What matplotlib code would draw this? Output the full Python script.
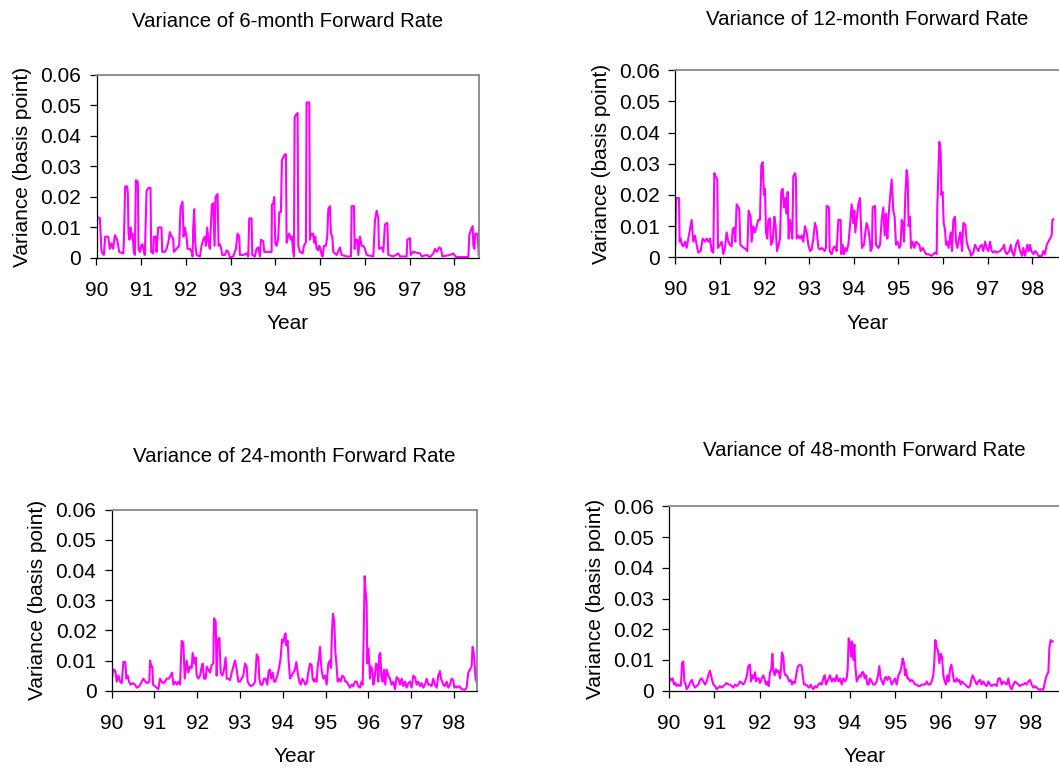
import matplotlib
matplotlib.use("Agg")
import matplotlib.pyplot as plt
import numpy as np

plt.rcParams['font.family'] = ['Liberation Sans', 'DejaVu Sans']

# (year, variance) pairs
fwd6 = [
    (90.000, 0.004), (90.015, 0.0135), (90.075, 0.013), (90.112, 0.002), (90.164, 0.001),
    (90.194, 0.007), (90.261, 0.007), (90.298, 0.003), (90.336, 0.0048), (90.373, 0.003),
    (90.410, 0.0075), (90.462, 0.006), (90.507, 0.002), (90.597, 0.0015), (90.611, 0.005),
    (90.641, 0.0235), (90.686, 0.0235), (90.701, 0.021), (90.716, 0.008), (90.738, 0.006),
    (90.761, 0.010), (90.783, 0.007), (90.805, 0.008), (90.835, 0.002), (90.858, 0.001),
    (90.880, 0.0255), (90.925, 0.025), (90.940, 0.003), (90.969, 0.002), (90.999, 0.004),
    (91.029, 0.0045), (91.059, 0.002), (91.081, 0.001), (91.119, 0.022), (91.163, 0.023),
    (91.208, 0.023), (91.223, 0.002), (91.268, 0.0015), (91.283, 0.007), (91.327, 0.007),
    (91.342, 0.002), (91.380, 0.010), (91.454, 0.010), (91.469, 0.002), (91.529, 0.002),
    (91.566, 0.003), (91.603, 0.005), (91.641, 0.0085), (91.678, 0.007), (91.715, 0.0065),
    (91.730, 0.002), (91.790, 0.003), (91.849, 0.004), (91.879, 0.0165), (91.924, 0.0185),
    (91.946, 0.007), (91.976, 0.010), (92.013, 0.007), (92.036, 0.003), (92.088, 0.003),
    (92.125, 0.002), (92.148, 0.0005), (92.163, 0.010), (92.185, 0.016), (92.207, 0.005),
    (92.237, 0.001), (92.312, 0.0005), (92.349, 0.004), (92.386, 0.006), (92.424, 0.007),
    (92.446, 0.004), (92.476, 0.010), (92.506, 0.005), (92.535, 0.003), (92.580, 0.0175),
    (92.610, 0.018), (92.640, 0.004), (92.662, 0.020), (92.707, 0.021), (92.729, 0.004),
    (92.759, 0.0045), (92.789, 0.003), (92.811, 0.001), (92.871, 0.001), (92.908, 0.0025),
    (92.946, 0.002), (92.983, 0.0002), (93.057, 0.0005), (93.117, 0.003), (93.154, 0.008),
    (93.192, 0.007), (93.207, 0.001), (93.281, 0.001), (93.356, 0.0015), (93.393, 0.0005),
    (93.415, 0.013), (93.468, 0.013), (93.483, 0.001), (93.542, 0.0005), (93.579, 0.003),
    (93.617, 0.0035), (93.654, 0.0005), (93.676, 0.006), (93.729, 0.0055), (93.751, 0.002),
    (93.840, 0.002), (93.915, 0.002), (93.922, 0.0175), (93.952, 0.018), (93.975, 0.020),
    (93.997, 0.005), (94.027, 0.004), (94.064, 0.0065), (94.087, 0.015), (94.124, 0.015),
    (94.146, 0.032), (94.176, 0.033), (94.213, 0.034), (94.236, 0.034), (94.251, 0.005),
    (94.280, 0.007), (94.310, 0.008), (94.348, 0.006), (94.370, 0.007), (94.392, 0.003),
    (94.415, 0.0005), (94.430, 0.046), (94.459, 0.047), (94.497, 0.0475), (94.512, 0.004),
    (94.549, 0.002), (94.609, 0.0015), (94.638, 0.004), (94.683, 0.0052), (94.698, 0.051),
    (94.758, 0.051), (94.773, 0.006), (94.795, 0.008), (94.825, 0.0075), (94.847, 0.008),
    (94.870, 0.005), (94.892, 0.007), (94.922, 0.003), (94.959, 0.0025), (94.981, 0.004),
    (95.011, 0.003), (95.033, 0.001), (95.056, 0.0005), (95.086, 0.004), (95.130, 0.004),
    (95.160, 0.007), (95.183, 0.016), (95.220, 0.017), (95.242, 0.008), (95.272, 0.007),
    (95.295, 0.002), (95.369, 0.001), (95.444, 0.0035), (95.481, 0.001), (95.593, 0.0005),
    (95.690, 0.0005), (95.705, 0.017), (95.757, 0.017), (95.772, 0.003), (95.794, 0.006),
    (95.831, 0.006), (95.854, 0.001), (95.891, 0.007), (95.928, 0.004), (95.966, 0.004),
    (96.003, 0.003), (96.040, 0.001), (96.190, 0.0005), (96.227, 0.0125), (96.264, 0.0155),
    (96.301, 0.013), (96.316, 0.003), (96.376, 0.0035), (96.413, 0.002), (96.450, 0.011),
    (96.503, 0.0115), (96.525, 0.001), (96.637, 0.0005), (96.749, 0.0015), (96.786, 0.0005),
    (96.935, 0.0005), (96.950, 0.006), (97.010, 0.0065), (97.025, 0.001), (97.084, 0.002),
    (97.233, 0.0015), (97.271, 0.0005), (97.383, 0.001), (97.457, 0.0003), (97.532, 0.0015),
    (97.569, 0.003), (97.606, 0.002), (97.666, 0.0035), (97.703, 0.003), (97.733, 0.0005),
    (97.905, 0.001), (97.979, 0.0015), (98.039, 0.0003), (98.315, 0.0003), (98.337, 0.0075),
    (98.367, 0.009), (98.412, 0.0105), (98.427, 0.004), (98.449, 0.003), (98.471, 0.008),
    (98.524, 0.008), (98.546, 0.001),
]

fwd12 = [
    (90.000, 0.004), (90.015, 0.019), (90.082, 0.019), (90.097, 0.005), (90.120, 0.006),
    (90.149, 0.004), (90.179, 0.0035), (90.217, 0.005), (90.254, 0.003), (90.291, 0.006),
    (90.329, 0.009), (90.366, 0.012), (90.403, 0.005), (90.441, 0.007), (90.478, 0.004),
    (90.515, 0.0015), (90.568, 0.002), (90.613, 0.006), (90.665, 0.005), (90.702, 0.006),
    (90.747, 0.005), (90.777, 0.006), (90.814, 0.002), (90.852, 0.0015), (90.874, 0.027),
    (90.904, 0.026), (90.941, 0.025), (90.956, 0.003), (91.001, 0.004), (91.038, 0.005),
    (91.076, 0.001), (91.113, 0.003), (91.150, 0.008), (91.188, 0.005), (91.225, 0.004),
    (91.262, 0.0035), (91.285, 0.009), (91.315, 0.0095), (91.345, 0.005), (91.374, 0.017),
    (91.419, 0.016), (91.434, 0.015), (91.457, 0.004), (91.494, 0.0035), (91.539, 0.003),
    (91.584, 0.0025), (91.614, 0.002), (91.643, 0.015), (91.688, 0.013), (91.711, 0.005),
    (91.748, 0.010), (91.785, 0.008), (91.823, 0.010), (91.860, 0.012), (91.897, 0.012),
    (91.927, 0.0295), (91.957, 0.0305), (91.987, 0.020), (92.009, 0.022), (92.032, 0.008),
    (92.062, 0.006), (92.084, 0.012), (92.121, 0.0125), (92.144, 0.004), (92.181, 0.005),
    (92.219, 0.013), (92.248, 0.010), (92.278, 0.002), (92.316, 0.004), (92.346, 0.006),
    (92.375, 0.021), (92.405, 0.022), (92.435, 0.016), (92.465, 0.019), (92.495, 0.014),
    (92.517, 0.021), (92.540, 0.006), (92.570, 0.012), (92.600, 0.009), (92.622, 0.006),
    (92.644, 0.026), (92.682, 0.027), (92.704, 0.025), (92.719, 0.006), (92.756, 0.007),
    (92.794, 0.006), (92.831, 0.007), (92.868, 0.005), (92.906, 0.010), (92.943, 0.008),
    (92.981, 0.004), (93.018, 0.002), (93.055, 0.0025), (93.093, 0.006), (93.130, 0.011),
    (93.167, 0.009), (93.205, 0.003), (93.242, 0.0025), (93.279, 0.003), (93.317, 0.0025),
    (93.347, 0.002), (93.376, 0.003), (93.391, 0.0165), (93.444, 0.016), (93.459, 0.002),
    (93.503, 0.001), (93.541, 0.003), (93.578, 0.0035), (93.615, 0.002), (93.653, 0.012),
    (93.705, 0.012), (93.720, 0.001), (93.750, 0.004), (93.780, 0.001), (93.810, 0.003),
    (93.840, 0.002), (93.877, 0.004), (93.914, 0.010), (93.952, 0.017), (93.989, 0.011),
    (94.011, 0.015), (94.034, 0.008), (94.064, 0.012), (94.101, 0.017), (94.138, 0.019),
    (94.161, 0.010), (94.183, 0.003), (94.228, 0.004), (94.258, 0.008), (94.288, 0.011),
    (94.325, 0.009), (94.362, 0.005), (94.377, 0.002), (94.407, 0.003), (94.422, 0.016),
    (94.475, 0.0165), (94.497, 0.004), (94.549, 0.003), (94.587, 0.004), (94.624, 0.012),
    (94.661, 0.016), (94.691, 0.007), (94.721, 0.014), (94.751, 0.006), (94.773, 0.012),
    (94.811, 0.019), (94.848, 0.025), (94.885, 0.015), (94.915, 0.013), (94.945, 0.004),
    (94.982, 0.005), (95.020, 0.003), (95.050, 0.004), (95.072, 0.012), (95.102, 0.011),
    (95.124, 0.005), (95.154, 0.020), (95.184, 0.028), (95.207, 0.025), (95.229, 0.010),
    (95.259, 0.013), (95.281, 0.003), (95.319, 0.005), (95.356, 0.003), (95.393, 0.005),
    (95.431, 0.0045), (95.468, 0.004), (95.498, 0.002), (95.543, 0.003), (95.580, 0.002),
    (95.617, 0.001), (95.670, 0.001), (95.744, 0.0005), (95.819, 0.0015), (95.856, 0.001),
    (95.871, 0.016), (95.901, 0.030), (95.916, 0.037), (95.946, 0.034), (95.961, 0.020),
    (95.991, 0.021), (96.013, 0.011), (96.043, 0.009), (96.066, 0.004), (96.096, 0.005),
    (96.125, 0.003), (96.170, 0.008), (96.200, 0.002), (96.230, 0.012), (96.267, 0.013),
    (96.290, 0.005), (96.320, 0.003), (96.357, 0.006), (96.387, 0.008), (96.424, 0.002),
    (96.454, 0.011), (96.499, 0.0105), (96.529, 0.005), (96.566, 0.003), (96.603, 0.002),
    (96.626, 0.0005), (96.678, 0.0015), (96.716, 0.004), (96.753, 0.003), (96.790, 0.002),
    (96.828, 0.0035), (96.865, 0.004), (96.902, 0.002), (96.940, 0.005), (96.977, 0.003),
    (97.014, 0.002), (97.052, 0.005), (97.089, 0.002), (97.126, 0.0015), (97.164, 0.002),
    (97.201, 0.0015), (97.276, 0.002), (97.336, 0.003), (97.366, 0.004), (97.388, 0.002),
    (97.425, 0.001), (97.485, 0.002), (97.515, 0.004), (97.552, 0.0015), (97.590, 0.0005),
    (97.634, 0.004), (97.679, 0.0055), (97.709, 0.003), (97.739, 0.0015), (97.769, 0.0005),
    (97.799, 0.003), (97.836, 0.0005), (97.888, 0.004), (97.918, 0.002), (97.948, 0.004),
    (97.978, 0.002), (98.023, 0.001), (98.060, 0.002), (98.097, 0.0015), (98.135, 0.0005),
    (98.210, 0.0003), (98.247, 0.002), (98.284, 0.001), (98.322, 0.004), (98.359, 0.005),
    (98.396, 0.006), (98.434, 0.007), (98.449, 0.012), (98.470, 0.0122),
]

fwd24 = [
    (90.000, 0.003), (90.023, 0.006), (90.055, 0.007), (90.086, 0.0065), (90.117, 0.003),
    (90.156, 0.005), (90.195, 0.003), (90.234, 0.0025), (90.273, 0.0095), (90.319, 0.0095),
    (90.343, 0.004), (90.374, 0.005), (90.405, 0.003), (90.444, 0.002), (90.491, 0.0025),
    (90.545, 0.002), (90.584, 0.001), (90.646, 0.0015), (90.701, 0.003), (90.740, 0.004),
    (90.787, 0.003), (90.833, 0.0025), (90.880, 0.003), (90.896, 0.010), (90.927, 0.008),
    (90.950, 0.008), (90.966, 0.002), (91.012, 0.0015), (91.051, 0.001), (91.090, 0.0005),
    (91.129, 0.004), (91.168, 0.003), (91.207, 0.0025), (91.246, 0.003), (91.285, 0.004),
    (91.332, 0.004), (91.378, 0.005), (91.410, 0.006), (91.441, 0.002), (91.480, 0.003),
    (91.519, 0.002), (91.558, 0.003), (91.597, 0.002), (91.635, 0.0165), (91.674, 0.016),
    (91.706, 0.004), (91.752, 0.010), (91.791, 0.006), (91.830, 0.008), (91.869, 0.0075),
    (91.892, 0.0125), (91.931, 0.009), (91.963, 0.011), (91.986, 0.005), (92.025, 0.004),
    (92.064, 0.005), (92.103, 0.008), (92.126, 0.009), (92.157, 0.004), (92.196, 0.004),
    (92.220, 0.008), (92.259, 0.007), (92.297, 0.006), (92.336, 0.0085), (92.375, 0.009),
    (92.391, 0.024), (92.430, 0.023), (92.453, 0.005), (92.477, 0.017), (92.516, 0.0175),
    (92.547, 0.006), (92.586, 0.005), (92.625, 0.007), (92.663, 0.011), (92.687, 0.004),
    (92.726, 0.004), (92.765, 0.0035), (92.804, 0.006), (92.843, 0.008), (92.882, 0.010),
    (92.921, 0.007), (92.959, 0.003), (92.998, 0.003), (93.037, 0.004), (93.076, 0.005),
    (93.115, 0.009), (93.154, 0.008), (93.177, 0.003), (93.216, 0.002), (93.255, 0.0015),
    (93.310, 0.002), (93.349, 0.003), (93.388, 0.012), (93.427, 0.011), (93.450, 0.004),
    (93.481, 0.002), (93.520, 0.002), (93.559, 0.004), (93.598, 0.004), (93.637, 0.002),
    (93.668, 0.0065), (93.699, 0.007), (93.723, 0.004), (93.762, 0.006), (93.793, 0.003),
    (93.824, 0.003), (93.871, 0.005), (93.917, 0.008), (93.949, 0.011), (93.980, 0.017),
    (94.011, 0.016), (94.042, 0.0185), (94.065, 0.019), (94.081, 0.015), (94.112, 0.0165),
    (94.135, 0.010), (94.167, 0.004), (94.206, 0.005), (94.244, 0.006), (94.283, 0.007),
    (94.315, 0.0095), (94.346, 0.006), (94.385, 0.003), (94.416, 0.002), (94.455, 0.004),
    (94.494, 0.003), (94.525, 0.002), (94.556, 0.0025), (94.595, 0.006), (94.634, 0.009),
    (94.673, 0.0085), (94.696, 0.004), (94.727, 0.003), (94.758, 0.004), (94.790, 0.003),
    (94.813, 0.008), (94.844, 0.011), (94.868, 0.0145), (94.891, 0.009), (94.914, 0.006),
    (94.945, 0.004), (94.984, 0.005), (95.023, 0.002), (95.062, 0.009), (95.101, 0.010),
    (95.124, 0.0075), (95.148, 0.0195), (95.171, 0.0255), (95.202, 0.023), (95.226, 0.013),
    (95.257, 0.008), (95.280, 0.003), (95.319, 0.004), (95.350, 0.003), (95.389, 0.005),
    (95.428, 0.0045), (95.459, 0.003), (95.490, 0.003), (95.529, 0.002), (95.568, 0.001),
    (95.607, 0.002), (95.646, 0.0015), (95.685, 0.003), (95.724, 0.003), (95.763, 0.0015),
    (95.802, 0.001), (95.841, 0.003), (95.864, 0.002), (95.888, 0.017), (95.911, 0.038),
    (95.934, 0.033), (95.958, 0.029), (95.973, 0.009), (95.997, 0.014), (96.020, 0.009),
    (96.036, 0.004), (96.059, 0.008), (96.090, 0.007), (96.114, 0.002), (96.145, 0.004),
    (96.176, 0.009), (96.207, 0.0085), (96.230, 0.003), (96.254, 0.012), (96.277, 0.0125),
    (96.300, 0.005), (96.332, 0.003), (96.363, 0.007), (96.394, 0.002), (96.425, 0.007),
    (96.464, 0.005), (96.503, 0.004), (96.542, 0.002), (96.581, 0.003), (96.620, 0.0005),
    (96.659, 0.0045), (96.698, 0.004), (96.737, 0.002), (96.776, 0.004), (96.815, 0.0015),
    (96.853, 0.003), (96.892, 0.001), (96.931, 0.0025), (96.970, 0.003), (97.009, 0.001),
    (97.048, 0.005), (97.087, 0.0045), (97.126, 0.002), (97.165, 0.003), (97.204, 0.0015),
    (97.243, 0.0025), (97.282, 0.001), (97.321, 0.002), (97.360, 0.004), (97.399, 0.002),
    (97.438, 0.002), (97.476, 0.0015), (97.515, 0.004), (97.554, 0.002), (97.593, 0.001),
    (97.632, 0.005), (97.671, 0.0065), (97.694, 0.004), (97.725, 0.003), (97.749, 0.002),
    (97.788, 0.0015), (97.827, 0.003), (97.866, 0.001), (97.905, 0.002), (97.944, 0.004),
    (97.983, 0.0035), (98.006, 0.001), (98.045, 0.0015), (98.076, 0.001), (98.123, 0.0015),
    (98.177, 0.0005), (98.255, 0.0003), (98.294, 0.001), (98.333, 0.006), (98.372, 0.007),
    (98.411, 0.008), (98.434, 0.0145), (98.458, 0.013), (98.481, 0.009), (98.504, 0.004),
    (98.528, 0.003), (98.543, 0.0015),
]

fwd48 = [
    (90.000, 0.0025), (90.022, 0.004), (90.059, 0.0035), (90.081, 0.004), (90.110, 0.002),
    (90.140, 0.0025), (90.169, 0.0015), (90.206, 0.002), (90.243, 0.0015), (90.265, 0.002),
    (90.287, 0.009), (90.317, 0.0095), (90.339, 0.003), (90.368, 0.002), (90.390, 0.0005),
    (90.420, 0.001), (90.449, 0.002), (90.479, 0.003), (90.508, 0.0035), (90.538, 0.002),
    (90.575, 0.001), (90.611, 0.0015), (90.648, 0.002), (90.685, 0.0035), (90.722, 0.004),
    (90.759, 0.003), (90.796, 0.002), (90.832, 0.003), (90.869, 0.005), (90.906, 0.0065),
    (90.943, 0.004), (90.980, 0.002), (91.017, 0.0015), (91.053, 0.0005), (91.090, 0.001),
    (91.127, 0.0015), (91.164, 0.001), (91.201, 0.0015), (91.237, 0.002), (91.274, 0.0025),
    (91.311, 0.002), (91.348, 0.002), (91.385, 0.0015), (91.422, 0.001), (91.458, 0.002),
    (91.495, 0.0015), (91.532, 0.002), (91.569, 0.003), (91.606, 0.0025), (91.643, 0.002),
    (91.679, 0.003), (91.716, 0.0045), (91.753, 0.008), (91.790, 0.0085), (91.812, 0.003),
    (91.842, 0.005), (91.864, 0.004), (91.900, 0.006), (91.923, 0.003), (91.952, 0.004),
    (91.981, 0.004), (92.011, 0.0025), (92.048, 0.004), (92.085, 0.005), (92.114, 0.0035),
    (92.144, 0.002), (92.173, 0.003), (92.202, 0.0015), (92.232, 0.006), (92.261, 0.007),
    (92.283, 0.012), (92.306, 0.0065), (92.335, 0.005), (92.364, 0.007), (92.394, 0.006),
    (92.423, 0.0065), (92.453, 0.004), (92.475, 0.007), (92.497, 0.0125), (92.527, 0.011),
    (92.549, 0.006), (92.571, 0.005), (92.600, 0.005), (92.630, 0.004), (92.659, 0.003),
    (92.689, 0.0035), (92.718, 0.002), (92.747, 0.003), (92.784, 0.0025), (92.821, 0.006),
    (92.851, 0.008), (92.895, 0.0085), (92.932, 0.008), (92.954, 0.005), (92.983, 0.002),
    (93.020, 0.002), (93.057, 0.0015), (93.094, 0.001), (93.131, 0.002), (93.160, 0.001),
    (93.189, 0.0005), (93.226, 0.0015), (93.263, 0.001), (93.300, 0.002), (93.337, 0.0025),
    (93.374, 0.002), (93.410, 0.004), (93.440, 0.005), (93.469, 0.002), (93.499, 0.003),
    (93.528, 0.004), (93.558, 0.005), (93.595, 0.003), (93.631, 0.004), (93.668, 0.003),
    (93.705, 0.005), (93.742, 0.003), (93.779, 0.004), (93.816, 0.002), (93.852, 0.004),
    (93.889, 0.003), (93.926, 0.004), (93.948, 0.007), (93.970, 0.017), (94.000, 0.0155),
    (94.022, 0.011), (94.044, 0.016), (94.073, 0.010), (94.096, 0.015), (94.118, 0.008),
    (94.147, 0.003), (94.177, 0.004), (94.206, 0.005), (94.235, 0.0045), (94.265, 0.006),
    (94.294, 0.006), (94.324, 0.004), (94.353, 0.005), (94.383, 0.002), (94.412, 0.002),
    (94.442, 0.004), (94.479, 0.003), (94.515, 0.002), (94.552, 0.002), (94.589, 0.003),
    (94.618, 0.005), (94.648, 0.008), (94.677, 0.004), (94.707, 0.003), (94.736, 0.002),
    (94.766, 0.004), (94.795, 0.0045), (94.825, 0.0035), (94.854, 0.0045), (94.884, 0.004),
    (94.921, 0.002), (94.957, 0.003), (94.994, 0.004), (95.031, 0.002), (95.068, 0.005),
    (95.105, 0.006), (95.134, 0.0075), (95.164, 0.0105), (95.193, 0.009), (95.215, 0.005),
    (95.237, 0.007), (95.267, 0.004), (95.296, 0.004), (95.326, 0.003), (95.362, 0.0035),
    (95.399, 0.003), (95.436, 0.002), (95.473, 0.002), (95.510, 0.0015), (95.547, 0.0015),
    (95.583, 0.002), (95.620, 0.002), (95.657, 0.002), (95.694, 0.003), (95.731, 0.002),
    (95.768, 0.002), (95.804, 0.003), (95.841, 0.005), (95.863, 0.0095), (95.885, 0.0165),
    (95.915, 0.014), (95.944, 0.013), (95.974, 0.009), (96.003, 0.012), (96.033, 0.011),
    (96.062, 0.005), (96.092, 0.003), (96.121, 0.002), (96.151, 0.005), (96.180, 0.003),
    (96.210, 0.007), (96.239, 0.0085), (96.268, 0.006), (96.298, 0.003), (96.327, 0.003),
    (96.357, 0.004), (96.386, 0.003), (96.416, 0.0035), (96.445, 0.002), (96.475, 0.003),
    (96.504, 0.0025), (96.541, 0.002), (96.578, 0.0015), (96.615, 0.001), (96.651, 0.0015),
    (96.688, 0.004), (96.710, 0.005), (96.740, 0.004), (96.769, 0.003), (96.799, 0.002),
    (96.836, 0.003), (96.873, 0.0035), (96.909, 0.002), (96.946, 0.003), (96.983, 0.002),
    (97.020, 0.0015), (97.057, 0.003), (97.094, 0.002), (97.130, 0.0015), (97.167, 0.002),
    (97.204, 0.002), (97.241, 0.0015), (97.278, 0.004), (97.314, 0.004), (97.351, 0.002),
    (97.388, 0.003), (97.425, 0.0025), (97.462, 0.002), (97.499, 0.004), (97.521, 0.002),
    (97.550, 0.001), (97.572, 0.0005), (97.609, 0.002), (97.646, 0.003), (97.683, 0.0025),
    (97.720, 0.002), (97.756, 0.0015), (97.793, 0.002), (97.830, 0.002), (97.867, 0.0025),
    (97.904, 0.002), (97.941, 0.003), (97.977, 0.0035), (98.014, 0.002), (98.051, 0.001),
    (98.088, 0.0015), (98.125, 0.001), (98.162, 0.0005), (98.198, 0.0003), (98.235, 0.0005),
    (98.272, 0.0003), (98.309, 0.003), (98.346, 0.005), (98.383, 0.006), (98.405, 0.014),
    (98.434, 0.0165), (98.456, 0.016), (98.480, 0.016),
]

titles = ["Variance of 6-month Forward Rate", "Variance of 12-month Forward Rate",
          "Variance of 24-month Forward Rate", "Variance of 48-month Forward Rate"]
series = [fwd6, fwd12, fwd24, fwd48]
year_ticks = list(range(90, 99))
var_ticks = [0, 0.01, 0.02, 0.03, 0.04, 0.05, 0.06]
var_labels = ["0", "0.01", "0.02", "0.03", "0.04", "0.05", "0.06"]

W, H = 1059, 771
# axes boxes in pixels: left, top, right, bottom, plus x limit and title pad (pt)
boxes = [
    (96.5, 75.0, 479.0, 258.0, 98.553, 34.5),
    (675.3, 70.3, 1060.0, 257.3, 98.62, 32.5),
    (111.7, 509.7, 477.3, 690.7, 98.544, 34.0),
    (669.0, 506.3, 1060.0, 690.7, 98.64, 36.0),
]

fig = plt.figure(figsize=(W / 100, H / 100), dpi=100)
fs = 15

for title, pts, (l, t, r, b, xmax, tpad) in zip(titles, series, boxes):
    ax = fig.add_axes([l / W, 1 - b / H, (r - l) / W, (b - t) / H])
    x, y = np.array(pts).T
    ax.plot(x, y, color="#ff00ff", lw=1.5)
    ax.set_xlim(90, xmax)
    ax.set_ylim(0, 0.06)
    ax.set_xticks(year_ticks)
    ax.set_xticklabels([str(v) for v in year_ticks])
    ax.set_yticks(var_ticks)
    ax.set_yticklabels(var_labels)
    for s in ["top", "right"]:
        ax.spines[s].set_color("#888888")
        ax.spines[s].set_linewidth(1.3)
    for s in ["left", "bottom"]:
        ax.spines[s].set_color("black")
        ax.spines[s].set_linewidth(0.9)
    ax.tick_params(direction="out", length=5, width=0.9, labelsize=fs, colors="black")
    ax.tick_params(axis="x", pad=11.5)
    ax.tick_params(axis="y", pad=6)
    ax.set_xlabel("Year", fontsize=fs, labelpad=10.5)
    ax.set_ylabel("Variance (basis point)", fontsize=fs, labelpad=6)
    ax.set_title(title, fontsize=14.7, pad=tpad)

fig.savefig("out.png", dpi=100)
